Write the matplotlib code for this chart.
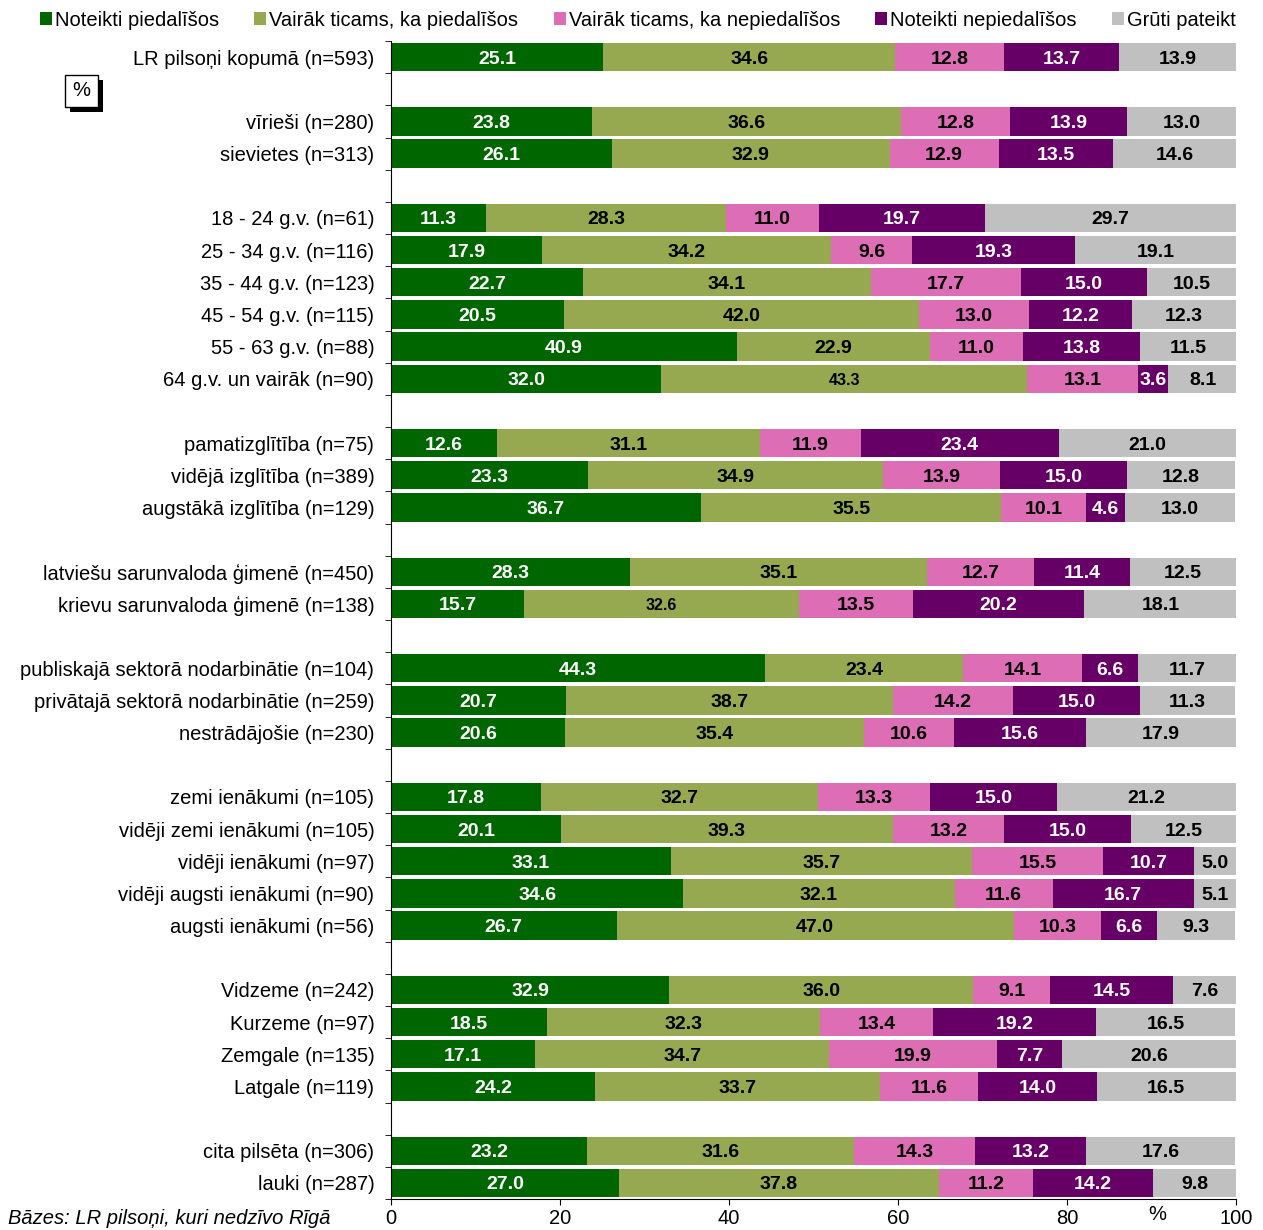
import matplotlib.pyplot as plt
from matplotlib.patches import Patch, Rectangle

plt.rcParams["font.family"] = ["Liberation Sans", "DejaVu Sans"]

series_names = [
    "Noteikti piedalīšos",
    "Vairāk ticams, ka piedalīšos",
    "Vairāk ticams, ka nepiedalīšos",
    "Noteikti nepiedalīšos",
    "Grūti pateikt",
]
colors = ["#006600", "#96A850", "#DD6DB5", "#660066", "#C0C0C0"]
text_colors = ["white", "black", "black", "white", "black"]

# None marks an empty slot between groups
categories = [
    "LR pilsoņi kopumā (n=593)", None,
    "vīrieši (n=280)", "sievietes (n=313)", None,
    "18 - 24 g.v. (n=61)", "25 - 34 g.v. (n=116)", "35 - 44 g.v. (n=123)",
    "45 - 54 g.v. (n=115)", "55 - 63 g.v. (n=88)", "64 g.v. un vairāk (n=90)", None,
    "pamatizglītība (n=75)", "vidējā izglītība (n=389)", "augstākā izglītība (n=129)", None,
    "latviešu sarunvaloda ģimenē (n=450)", "krievu sarunvaloda ģimenē (n=138)", None,
    "publiskajā sektorā nodarbinātie (n=104)", "privātajā sektorā nodarbinātie (n=259)",
    "nestrādājošie (n=230)", None,
    "zemi ienākumi (n=105)", "vidēji zemi ienākumi (n=105)", "vidēji ienākumi (n=97)",
    "vidēji augsti ienākumi (n=90)", "augsti ienākumi (n=56)", None,
    "Vidzeme (n=242)", "Kurzeme (n=97)", "Zemgale (n=135)", "Latgale (n=119)", None,
    "cita pilsēta (n=306)", "lauki (n=287)",
]

values = [
    [25.1, 34.6, 12.8, 13.7, 13.9], None,
    [23.8, 36.6, 12.8, 13.9, 13.0],
    [26.1, 32.9, 12.9, 13.5, 14.6], None,
    [11.3, 28.3, 11.0, 19.7, 29.7],
    [17.9, 34.2, 9.6, 19.3, 19.1],
    [22.7, 34.1, 17.7, 15.0, 10.5],
    [20.5, 42.0, 13.0, 12.2, 12.3],
    [40.9, 22.9, 11.0, 13.8, 11.5],
    [32.0, 43.3, 13.1, 3.6, 8.1], None,
    [12.6, 31.1, 11.9, 23.4, 21.0],
    [23.3, 34.9, 13.9, 15.0, 12.8],
    [36.7, 35.5, 10.1, 4.6, 13.0], None,
    [28.3, 35.1, 12.7, 11.4, 12.5],
    [15.7, 32.6, 13.5, 20.2, 18.1], None,
    [44.3, 23.4, 14.1, 6.6, 11.7],
    [20.7, 38.7, 14.2, 15.0, 11.3],
    [20.6, 35.4, 10.6, 15.6, 17.9], None,
    [17.8, 32.7, 13.3, 15.0, 21.2],
    [20.1, 39.3, 13.2, 15.0, 12.5],
    [33.1, 35.7, 15.5, 10.7, 5.0],
    [34.6, 32.1, 11.6, 16.7, 5.1],
    [26.7, 47.0, 10.3, 6.6, 9.3], None,
    [32.9, 36.0, 9.1, 14.5, 7.6],
    [18.5, 32.3, 13.4, 19.2, 16.5],
    [17.1, 34.7, 19.9, 7.7, 20.6],
    [24.2, 33.7, 11.6, 14.0, 16.5], None,
    [23.2, 31.6, 14.3, 13.2, 17.6],
    [27.0, 37.8, 11.2, 14.2, 9.8],
]

# labels that the original renders in a smaller font
small_labels = {(10, 1), (17, 1)}

W, H = 1263, 1230
fig = plt.figure(figsize=(W / 100, H / 100), dpi=100)
ax = fig.add_axes([391 / W, 1 - 1199 / H, (1236 - 391) / W, (1199 - 41) / H])

n = len(categories)
for i, row in enumerate(values):
    if row is None:
        continue
    left = 0.0
    for k, v in enumerate(row):
        ax.barh(i, v, left=left, height=0.88, color=colors[k], linewidth=0)
        ax.text(left + v / 2, i, f"{v:.1f}", ha="center", va="center_baseline",
                color=text_colors[k], fontweight="bold",
                fontsize=11.5 if (i, k) in small_labels else 14)
        left += v

ax.set_xlim(0, 100)
ax.set_ylim(n - 0.5, -0.5)
ax.set_yticks(range(n))
ax.set_yticklabels([c if c else "" for c in categories], fontsize=14.5)
ax.set_yticks([i + 0.5 for i in range(-1, n)], minor=True)
ax.tick_params(axis="y", which="major", length=0, pad=12)
ax.tick_params(axis="y", which="minor", length=4.5, direction="out")
ax.set_xticks(range(0, 101, 20))
ax.tick_params(axis="x", labelsize=14.5, length=4.5, pad=3)
for side in ["top", "right"]:
    ax.spines[side].set_visible(False)

handles = [Patch(facecolor=c, edgecolor="none") for c in colors]
fig.legend(handles, series_names, loc="center", bbox_to_anchor=(638 / W, 1 - 20 / H),
           ncol=5, frameon=False, fontsize=14.5, handlelength=0.6, handleheight=0.6,
           handletextpad=0.15, columnspacing=1.75)

# "%" box with shadow
fig.add_artist(Rectangle((70 / W, 1 - 112 / H), 33 / W, 32 / H,
                         transform=fig.transFigure, facecolor="black", edgecolor="none"))
fig.add_artist(Rectangle((65 / W, 1 - 107 / H), 33 / W, 32 / H,
                         transform=fig.transFigure, facecolor="white", edgecolor="black",
                         linewidth=1))
fig.text(81.5 / W, 1 - 91 / H, "%", ha="center", va="center", fontsize=14.5)

fig.text(1157 / W, 1 - 1215 / H, "%", ha="center", va="center", fontsize=14.5)
fig.text(8 / W, 1 - 1218 / H, "Bāzes: LR pilsoņi, kuri nedzīvo Rīgā", ha="left",
         va="center", fontsize=14.5, style="italic")

fig.savefig("out.png", dpi=100)
